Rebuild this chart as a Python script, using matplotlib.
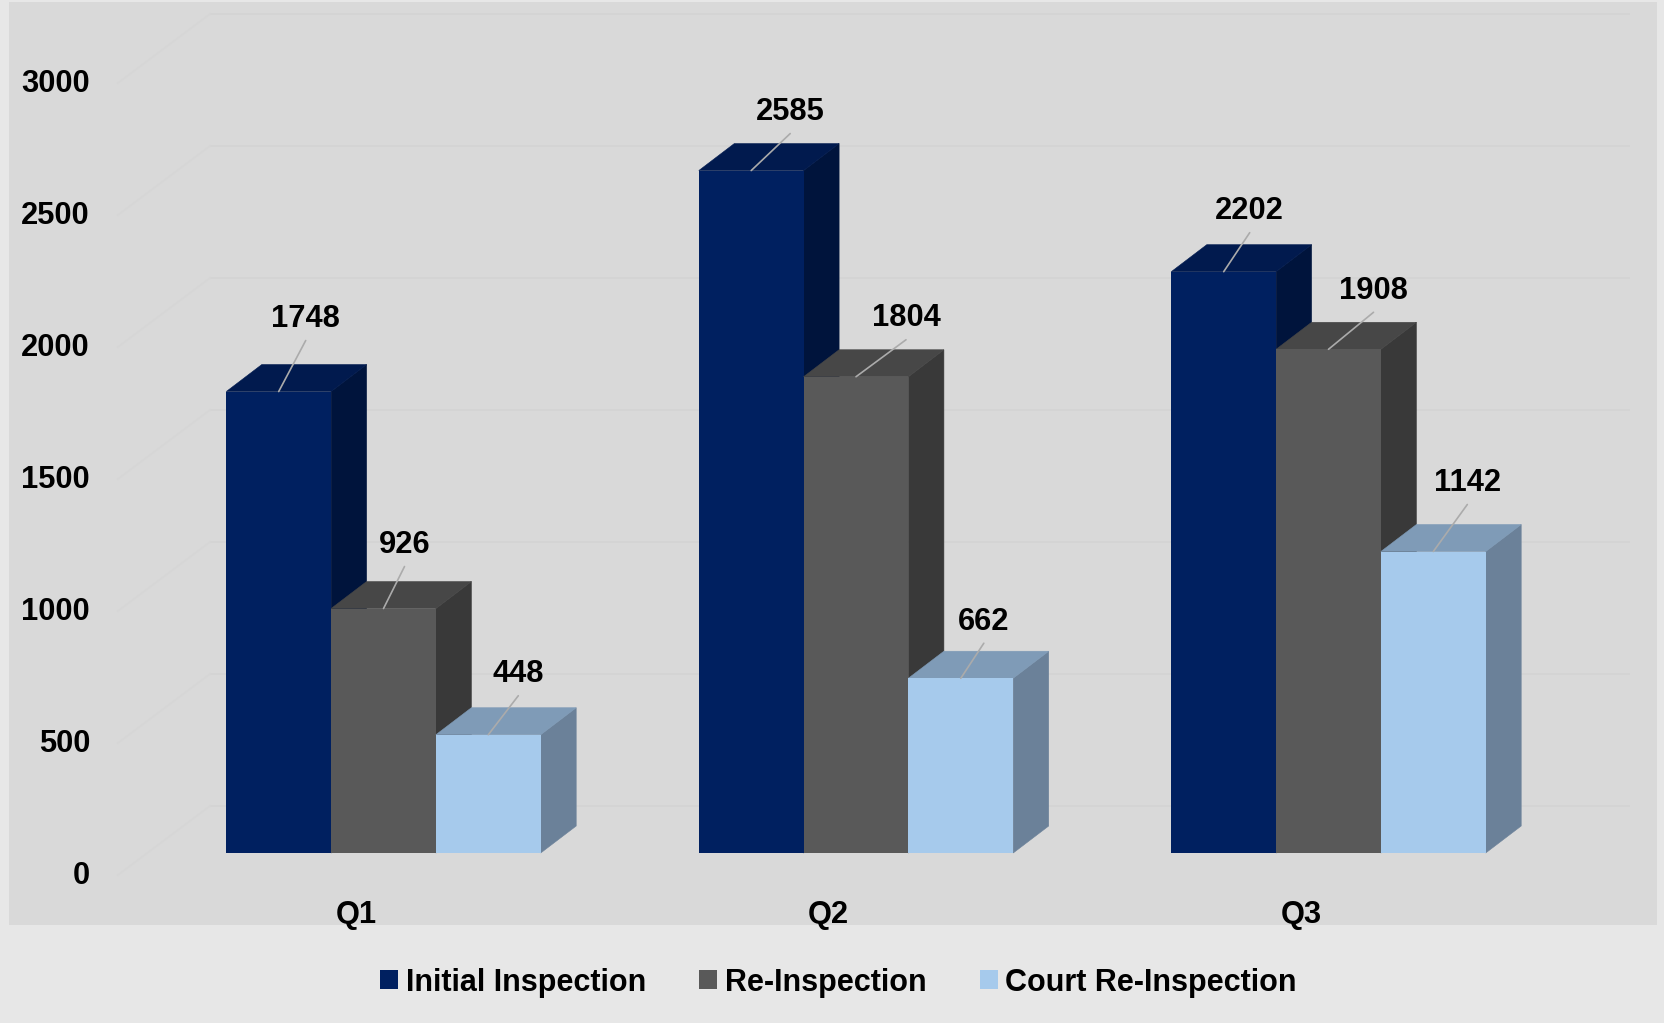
import matplotlib
matplotlib.use("Agg")
import matplotlib.pyplot as plt
from matplotlib.patches import Polygon, Patch

categories = ["Q1", "Q2", "Q3"]
series_names = ["Initial Inspection", "Re-Inspection", "Court Re-Inspection"]
initial_inspection = [1748, 2585, 2202]
re_inspection = [926, 1804, 1908]
court_re_inspection = [448, 662, 1142]
y_ticks = [0, 500, 1000, 1500, 2000, 2500, 3000]

series_values = [initial_inspection, re_inspection, court_re_inspection]
front_colors = ["#002060", "#595959", "#A6CAEC"]
side_colors = ["#00143C", "#393939", "#6B8199"]
top_colors = ["#011A4E", "#474747", "#7F9BB7"]

# leader-line offsets in pixels (dx, dy) per series, per category
leaders = [
    [(27, 51), (39, 37), (26, 39)],
    [(21, 42), (50, 37), (45, 37)],
    [(30, 39), (23, 35), (34, 47)],
]

W, H = 1665, 1023
L, R, T, B = 9, 1657, 2, 925
PX_PER_VAL = 0.264
BASE_PX = 853
GROUP0_PX = 383.5
GROUP_STEP = 472.5
BAR_W = 104.8 / GROUP_STEP
DEPTH_X = 35.5 / GROUP_STEP
DEPTH_Y = 27 / PX_PER_VAL
FS = 22.2
LEGEND_FS = 22.0

plt.rcParams["font.family"] = ["Liberation Sans", "DejaVu Sans"]
plt.rcParams["font.weight"] = "bold"

fig = plt.figure(figsize=(W / 100, H / 100), dpi=100, facecolor="#E7E7E7")
ax = fig.add_axes([L / W, 1 - B / H, (R - L) / W, (B - T) / H], facecolor="#D9D9D9")
ax.set_xlim((L - GROUP0_PX) / GROUP_STEP, (R - GROUP0_PX) / GROUP_STEP)
ax.set_ylim((BASE_PX - B) / PX_PER_VAL, (BASE_PX - T) / PX_PER_VAL)
for s in ax.spines.values():
    s.set_visible(False)

# 3D wall gridlines
wall_front_x = (118 - GROUP0_PX) / GROUP_STEP
wall_back_x = (210 - GROUP0_PX) / GROUP_STEP
wall_right_x = (1630 - GROUP0_PX) / GROUP_STEP
front_off = (BASE_PX - 875) / PX_PER_VAL
back_off = (BASE_PX - 806) / PX_PER_VAL
for v in y_ticks:
    ax.plot([wall_back_x, wall_right_x], [v + back_off, v + back_off],
            color="#D4D4D4", lw=1.4, zorder=1, solid_capstyle="butt")
    ax.plot([wall_front_x, wall_back_x], [v + front_off, v + back_off],
            color="#D6D6D6", lw=1.2, zorder=1)

# bars
for s, values in enumerate(series_values):
    xs = [i + (s - 1) * BAR_W for i in range(len(categories))]
    for x, v in zip(xs, values):
        x1, x2 = x - BAR_W / 2, x + BAR_W / 2
        ax.add_patch(Polygon([(x2, 0), (x2 + DEPTH_X, DEPTH_Y), (x2 + DEPTH_X, v + DEPTH_Y), (x2, v)],
                             closed=True, fc=side_colors[s], ec=side_colors[s], lw=0.4, zorder=2 + 2 * s))
        ax.add_patch(Polygon([(x1, v), (x1 + DEPTH_X, v + DEPTH_Y), (x2 + DEPTH_X, v + DEPTH_Y), (x2, v)],
                             closed=True, fc=top_colors[s], ec=top_colors[s], lw=0.4, zorder=2 + 2 * s))
    ax.bar(xs, values, width=BAR_W, color=front_colors[s], zorder=3 + 2 * s)

# data labels with leader lines
for s, values in enumerate(series_values):
    for i, v in enumerate(values):
        x = i + (s - 1) * BAR_W
        dx, dy = leaders[s][i]
        ax.annotate("", xy=(x, v), xytext=(dx, dy), textcoords="offset pixels",
                    arrowprops=dict(arrowstyle="-", color="#ABABAB", lw=1.2,
                                    shrinkA=0, shrinkB=0), zorder=12)
        ax.annotate(str(v), xy=(x, v), xytext=(dx, dy + 21.5), textcoords="offset pixels",
                    ha="center", va="center", fontsize=FS, fontweight="bold",
                    color="black", zorder=13)

# axes ticks drawn inside the panel
ax.set_yticks([v + front_off + 2 / PX_PER_VAL for v in y_ticks])
ax.set_yticklabels([str(v) for v in y_ticks], fontsize=FS, fontweight="bold", color="black")
ax.tick_params(axis="y", length=0, pad=-(90 - L) * 0.72)
ax.set_xticks([i - 27.5 / GROUP_STEP for i in range(len(categories))])
ax.set_xticklabels(categories, fontsize=FS, fontweight="bold", color="black")
ax.tick_params(axis="x", length=0, pad=-(B - 900) * 0.72)

handles = [Patch(fc=c, ec="none", label=n) for c, n in zip(front_colors, series_names)]
fig.legend(handles=handles, loc="center", bbox_to_anchor=(838.5 / W, 1 - 982.5 / H), ncol=3,
           frameon=False, handlelength=0.59, handleheight=0.59,
           handletextpad=0.25, columnspacing=1.74, borderpad=0, labelcolor="black",
           prop=dict(family=["Liberation Sans"], weight="bold", size=LEGEND_FS))

fig.savefig("out.png", dpi=100, facecolor=fig.get_facecolor())
